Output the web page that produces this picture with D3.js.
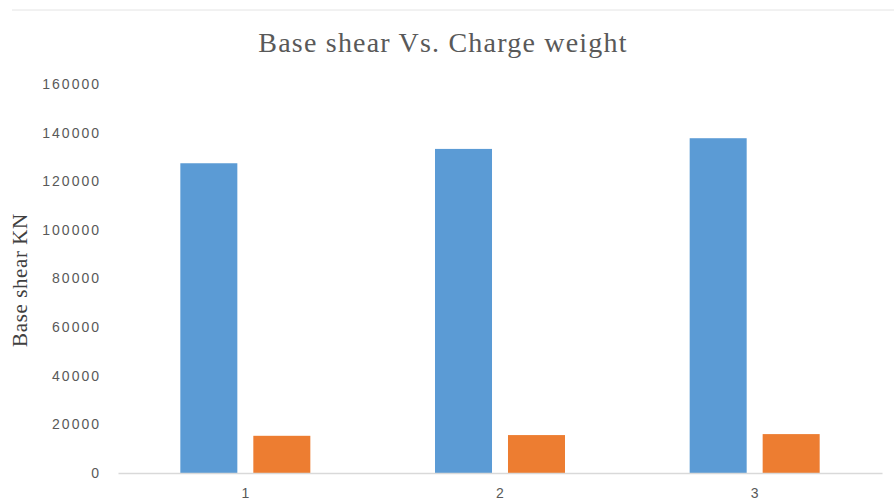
<!DOCTYPE html>
<html>
<head>
<meta charset="utf-8">
<script src="https://cdn.jsdelivr.net/npm/d3@7"></script>
<style>
  html, body { margin: 0; padding: 0; background: #fff; }
  svg { display: block; }
</style>
</head>
<body>
<div id="chart"></div>
<script>
const categories = ["1", "2", "3"];
const seriesNames = ["Series1", "Series2"];
const series1 = [127400, 133300, 137700];
const series2 = [15300, 15600, 16000];
const yTicks = [0, 20000, 40000, 60000, 80000, 100000, 120000, 140000, 160000];
const colors = ["#5B9BD5", "#ED7D31"];

const W = 894, H = 500;
const plot = { left: 118, right: 882, top: 84, bottom: 473 };

const svg = d3.select("#chart").append("svg").attr("width", W).attr("height", H);

// faint top border line
svg.append("line")
  .attr("x1", 12).attr("x2", W).attr("y1", 10).attr("y2", 10)
  .attr("stroke", "#e4e4e4").attr("stroke-width", 1);

const x0 = d3.scaleBand().domain(categories).range([plot.left, plot.right]).padding(0);
const x1 = d3.scaleBand().domain(seriesNames).range([-65, 65]).paddingInner(0.219).paddingOuter(0);
const y = d3.scaleLinear().domain([0, 160000]).range([plot.bottom, plot.top]);

const data = categories.map((c, i) => ({ cat: c, vals: [series1[i], series2[i]] }));

// bars
const groups = svg.append("g").selectAll("g").data(data).join("g")
  .attr("transform", d => `translate(${x0(d.cat) + x0.bandwidth() / 2},0)`);
groups.selectAll("rect")
  .data(d => d.vals.map((v, j) => ({ name: seriesNames[j], v, j })))
  .join("rect")
  .attr("x", d => x1(d.name))
  .attr("width", x1.bandwidth())
  .attr("y", d => y(d.v))
  .attr("height", d => y(0) - y(d.v))
  .attr("fill", d => colors[d.j]);

// y axis tick labels (no axis line)
const yAxis = d3.axisLeft(y).tickValues(yTicks).tickSize(0).tickPadding(0).tickFormat(d3.format("d"));
const yg = svg.append("g").attr("transform", `translate(101,0)`).call(yAxis);
yg.select(".domain").remove();
yg.selectAll("text")
  .attr("fill", "#595959")
  .style("font-family", "'Liberation Sans', Arial, sans-serif")
  .style("font-size", "14px")
  .style("letter-spacing", "2px");

// x axis
const xAxis = d3.axisBottom(x0).tickSize(0).tickPadding(0);
const xg = svg.append("g").attr("transform", `translate(0,${plot.bottom})`).call(xAxis);
xg.select(".domain").attr("stroke", "#d9d9d9").attr("stroke-width", 1.5);
xg.selectAll("text")
  .attr("y", 15)
  .attr("dy", "0.71em")
  .attr("fill", "#595959")
  .style("font-family", "'Liberation Sans', Arial, sans-serif")
  .style("font-size", "14px");

// title
svg.append("text")
  .attr("x", 443).attr("y", 52)
  .attr("text-anchor", "middle")
  .attr("fill", "#595959")
  .style("font-family", "'Liberation Serif', 'Times New Roman', serif")
  .style("font-size", "28px")
  .style("letter-spacing", "1.2px")
  .text("Base shear Vs. Charge weight");

// y axis title
svg.append("text")
  .attr("transform", "translate(27,280) rotate(-90)")
  .attr("text-anchor", "middle")
  .attr("fill", "#404040")
  .style("font-family", "'Liberation Serif', 'Times New Roman', serif")
  .style("font-size", "21px")
  .style("letter-spacing", "0.6px")
  .text("Base shear KN");
</script>
</body>
</html>
